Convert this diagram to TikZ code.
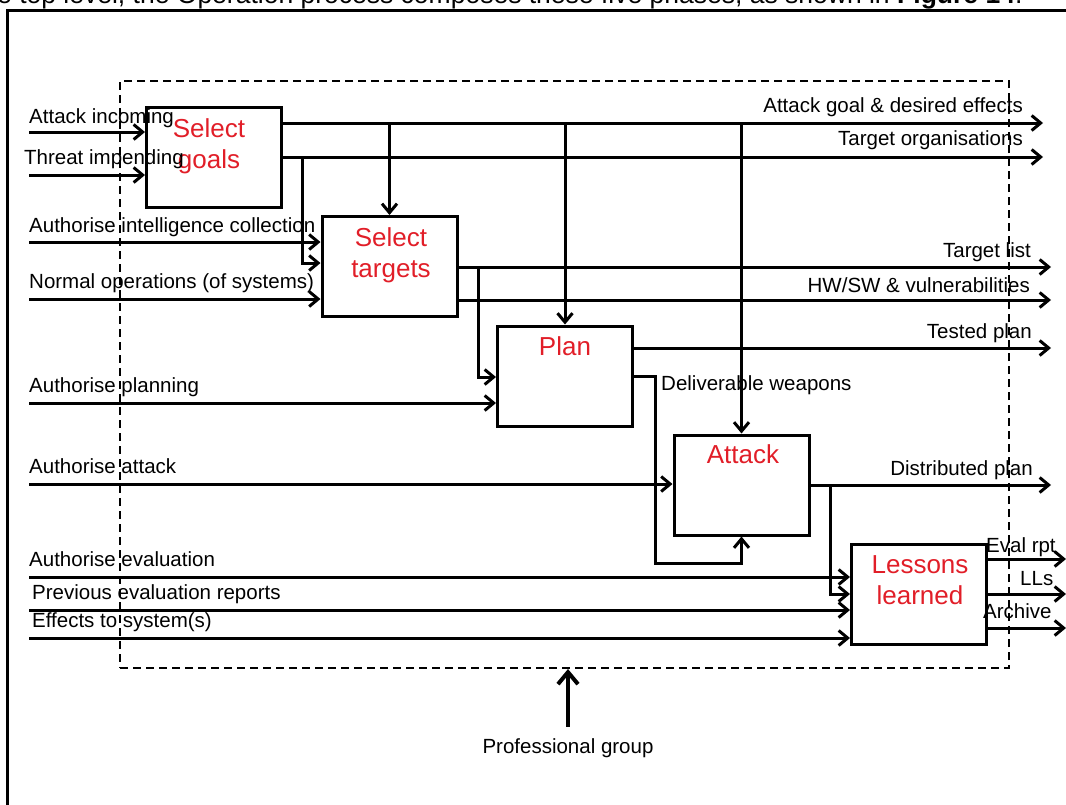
\documentclass[tikz,border=0pt]{standalone}
\usepackage{fontspec}
\setmainfont{Liberation Sans}
\usetikzlibrary{arrows.meta, calc}

\definecolor{phasered}{RGB}{225,30,40}

\begin{document}
\begin{tikzpicture}[x=1pt, y=-1pt,
  phase/.style={draw, rectangle, line width=3pt, minimum width=135pt, minimum height=100pt, inner sep=0pt},
  title/.style={text=phasered, font=\fontsize{26}{31}\selectfont, align=center, inner sep=0pt, anchor=north},
  lbl/.style={font=\fontsize{20.5}{24}\selectfont, inner sep=0pt},
  flow/.style={line width=3pt, -{Straight Barb[length=9pt, width=15pt]}}]
\useasboundingbox (0,0) rectangle (1066,804);

% page text and frame
\node[lbl, font=\fontsize{26.5}{30}\selectfont, anchor=base west] (header) at (-3,3) {e top level, the Operation process composes these five phases, as shown in \textbf{Figure 14}.};
\draw[line width=3pt] (7,1000) -- (7,10) -- (1100,10);

% operation boundary
\node[draw, line width=2pt, dash pattern=on 8pt off 5pt, minimum width=889pt, minimum height=587pt, inner sep=0pt] (operation) at (564.5,374.5) {};

% phases
\node[phase] (goals) at (214,157.5) {};
\node[phase] (targets) at (389.5,266.5) {};
\node[phase] (plan) at (565,376) {};
\node[phase] (attack) at (741.5,485) {};
\node[phase] (lessons) at (919,594) {};

\node[title] (goalsT) at (209,118) {Select\\goals};
\node[title] (targetsT) at (391,227) {Select\\targets};
\node[title] (planT) at (565,336) {Plan};
\node[title] (attackT) at (743,444) {Attack};
\node[title] (lessonsT) at (920,555) {Lessons\\learned};

% inputs from the left
\coordinate (inA) at (29,132);
\coordinate (inB) at (29,175);
\coordinate (inC) at (29,242);
\coordinate (inD) at (29,299);
\coordinate (inE) at (29,403);
\coordinate (inF) at (29,484);
\coordinate (inG) at (29,577);
\coordinate (inH) at (29,610);
\coordinate (inI) at (29,638);

\draw[flow] (inA) -- (inA -| goals.west);
\draw[flow] (inB) -- (inB -| goals.west);
\draw[flow] (inC) -- (inC -| targets.west);
\draw[flow] (inD) -- (inD -| targets.west);
\draw[flow] (inE) -- (inE -| plan.west);
\draw[flow] (inF) -- (inF -| attack.west);
\draw[flow] (inG) -- (inG -| lessons.west);
\draw[flow] (inH) -- (inH -| lessons.west);
\draw[flow] (inI) -- (inI -| lessons.west);

\node[lbl, anchor=base west] (lA) at (29,123) {Attack incoming};
\node[lbl, anchor=base west] (lB) at (24,164) {Threat impending};
\node[lbl, anchor=base west] (lC) at (29,232) {Authorise intelligence collection};
\node[lbl, anchor=base west] (lD) at (29,288) {Normal operations (of systems)};
\node[lbl, anchor=base west] (lE) at (29,392) {Authorise planning};
\node[lbl, anchor=base west] (lF) at (29,473) {Authorise attack};
\node[lbl, anchor=base west] (lG) at (29,566) {Authorise evaluation};
\node[lbl, anchor=base west] (lH) at (32,599) {Previous evaluation reports};
\node[lbl, anchor=base west] (lI) at (32,627) {Effects to system(s)};

% outputs to the right
\coordinate (outA) at (1043,123);
\coordinate (outB) at (1043,157);
\coordinate (outC) at (1051,267);
\coordinate (outD) at (1051,300);
\coordinate (outE) at (1051,348);
\coordinate (outF) at (1051,485);
\coordinate (outG) at (1066,559);
\coordinate (outH) at (1066,594);
\coordinate (outI) at (1066,628);

\draw[flow] (goals.east |- outA) -- (outA);
\draw[flow] (goals.east |- outB) -- (outB);
\draw[flow] (targets.east |- outC) -- (outC);
\draw[flow] (targets.east |- outD) -- (outD);
\draw[flow] (plan.east |- outE) -- (outE);
\draw[flow] (attack.east) -- (outF);
\draw[flow] (lessons.east |- outG) -- (outG);
\draw[flow] (lessons.east |- outH) -- (outH);
\draw[flow] (lessons.east |- outI) -- (outI);

\node[lbl, anchor=base east] (oA) at (1023,112) {Attack goal \& desired effects};
\node[lbl, anchor=base east] (oB) at (1023,145) {Target organisations};
\node[lbl, anchor=base east] (oC) at (1031,257) {Target list};
\node[lbl, anchor=base east] (oD) at (1030,292) {HW/SW \& vulnerabilities};
\node[lbl, anchor=base east] (oE) at (1032,338) {Tested plan};
\node[lbl, anchor=base east] (oF) at (1033,475) {Distributed plan};
\node[lbl, anchor=base west] (oG) at (986,552) {Eval rpt};
\node[lbl, anchor=base west] (oH) at (1020,585) {LLs};
\node[lbl, anchor=base west] (oI) at (983,618) {Archive};

% feeds between phases
\draw[flow] (targets.north |- outA) -- (targets.north);
\draw[flow] (plan.north |- outA) -- (plan.north);
\draw[flow] (attack.north |- outA) -- (attack.north);

\coordinate (fork1) at (302,157);
\coordinate (fork2) at (478,267);
\coordinate (fork3) at (830,485);
\draw[flow] (fork1) |- ($(targets.west)+(0,-3.5)$);
\draw[flow] (fork2) |- ($(plan.west)+(0,1)$);
\draw[flow] (fork3) |- (lessons.west);

\draw[flow] (plan.east) -- ++(21,0) |- ($(attack.south)+(0,27)$) -- (attack.south);
\node[lbl, anchor=base west] (weapons) at (661,390) {Deliverable weapons};

% control from below
\node[lbl, anchor=base] (prof) at (568,753) {Professional group};
\draw[line width=4pt, -{Straight Barb[length=12pt, width=20pt]}] ($(prof.north)+(0,-11)$) -- (operation.south -| prof.north);
\end{tikzpicture}
\end{document}
